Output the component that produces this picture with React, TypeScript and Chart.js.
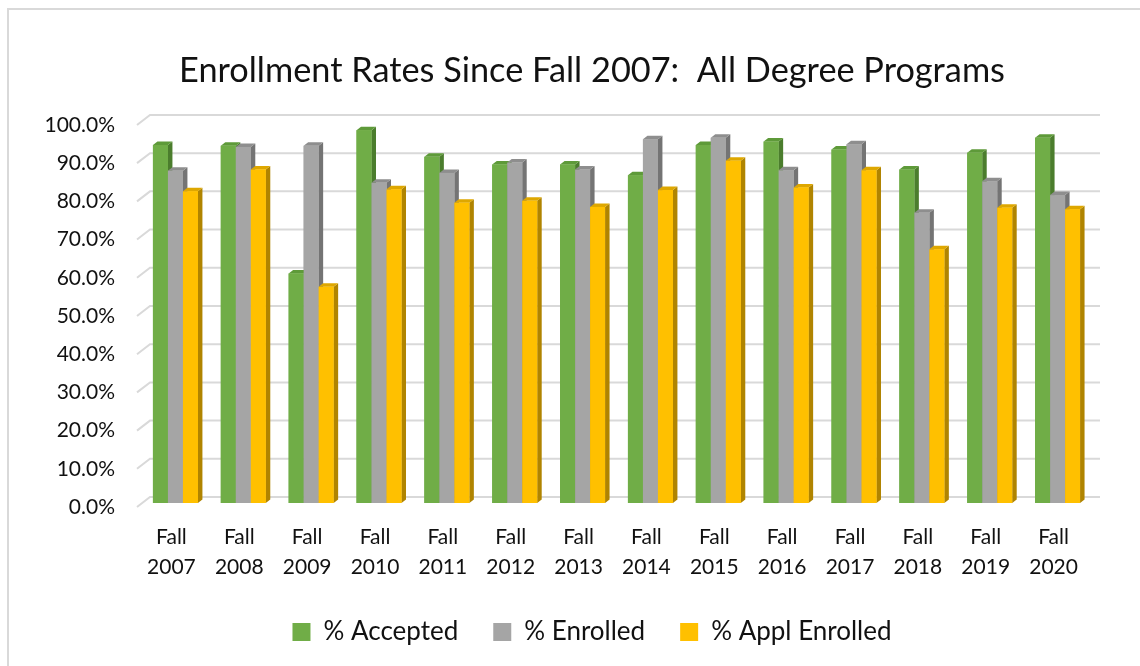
import React, { useEffect, useRef } from 'react';
import { Chart, registerables } from 'chart.js';

Chart.register(...registerables);

// ---- Data ----
const years = ['2007', '2008', '2009', '2010', '2011', '2012', '2013', '2014', '2015', '2016', '2017', '2018', '2019', '2020'];
const categories = years.map((y) => ['Fall', y]);
const seriesNames = ['% Accepted', '% Enrolled', '% Appl Enrolled'];
const accepted = [93.7, 93.5, 60.1, 97.6, 90.6, 88.6, 88.6, 85.8, 93.7, 94.6, 92.5, 87.3, 91.7, 95.6];
const enrolled = [87.0, 93.2, 93.5, 83.8, 86.4, 89.1, 87.3, 95.2, 95.6, 87.1, 93.9, 76.0, 84.2, 80.6];
const applEnrolled = [81.6, 87.3, 56.6, 82.1, 78.6, 79.1, 77.5, 81.9, 89.6, 82.6, 87.1, 66.4, 77.3, 76.9];
const yTicks = [0, 10, 20, 30, 40, 50, 60, 70, 80, 90, 100];
const title = 'Enrollment Rates Since Fall 2007:  All Degree Programs';

// ---- Styles ----
const faceColors = [
  { front: '#70AD47', top: '#5e9a39', side: '#4b7d2d' },
  { front: '#A5A5A5', top: '#8e8e8e', side: '#747474' },
  { front: '#FFC000', top: '#dea700', side: '#b08400' },
];
const FONT = 'Lato, "Noto Sans", sans-serif';
const TEXT = '#111111';
const DX = 4.5;
const DY = 3.5;
const FRONT = { dx: -4.5, dy: 4 };
const BACK = { dx: 8.5, dy: -6 };
const CW = 1184;
const CH = 666;

const bar3d = {
  id: 'bar3d',
  beforeDatasetsDraw(chart: any) {
    const { ctx, chartArea: a, scales } = chart;
    const y = scales.y;
    ctx.save();
    ctx.strokeStyle = '#d9d9d9';
    ctx.lineWidth = 2;
    for (const v of yTicks) {
      const py = y.getPixelForValue(v);
      ctx.beginPath();
      ctx.moveTo(a.left + FRONT.dx, py + FRONT.dy);
      ctx.lineTo(a.left + BACK.dx, py + BACK.dy);
      ctx.lineTo(a.right + BACK.dx, py + BACK.dy);
      ctx.stroke();
    }
    ctx.restore();
  },
  afterDatasetsDraw(chart: any) {
    const { ctx } = chart;
    const metas = chart.data.datasets.map((_: any, i: number) => chart.getDatasetMeta(i));
    const n = chart.data.labels.length;
    ctx.save();
    for (let j = 0; j < n; j++) {
      for (let i = 0; i < metas.length; i++) {
        const el = metas[i].data[j];
        if (!el) continue;
        const { x, y, base, width } = el.getProps(['x', 'y', 'base', 'width'], true);
        const l = x - width / 2;
        const r = x + width / 2;
        const c = faceColors[i];
        ctx.fillStyle = c.side;
        ctx.beginPath();
        ctx.moveTo(r, y);
        ctx.lineTo(r + DX, y - DY);
        ctx.lineTo(r + DX, base - DY);
        ctx.lineTo(r, base);
        ctx.closePath();
        ctx.fill();
        ctx.fillStyle = c.top;
        ctx.beginPath();
        ctx.moveTo(l, y);
        ctx.lineTo(l + DX, y - DY);
        ctx.lineTo(r + DX, y - DY);
        ctx.lineTo(r, y);
        ctx.closePath();
        ctx.fill();
        ctx.fillStyle = c.front;
        ctx.fillRect(l, y, width, base - y);
      }
    }
    ctx.restore();
  },
};

export default function App() {
  const ref = useRef<HTMLCanvasElement>(null);
  useEffect(() => {
    const seriesData = [accepted, enrolled, applEnrolled];
    const chart = new Chart(ref.current as HTMLCanvasElement, {
      type: 'bar',
      data: {
        labels: categories,
        datasets: seriesNames.map((name, i) => ({
          label: name,
          data: seriesData[i],
          backgroundColor: faceColors[i].front,
          borderWidth: 0,
          barPercentage: 1,
          categoryPercentage: 0.663,
        })),
      },
      plugins: [bar3d],
      options: {
        responsive: false,
        animation: false,
        devicePixelRatio: 1,
        layout: { padding: { top: 50.4, left: 0, right: 0, bottom: 11 } },
        plugins: {
          title: {
            display: true,
            text: title,
            color: TEXT,
            font: { family: FONT, size: 34.3, weight: 'normal', lineHeight: 1.2 },
            padding: { top: 0, bottom: 29.4 },
          },
          legend: {
            position: 'bottom',
            labels: {
              color: TEXT,
              font: { family: FONT, size: 26 },
              boxWidth: 18,
              boxHeight: 18,
              padding: 35,
            },
          },
          tooltip: { enabled: false },
        },
        scales: {
          x: {
            grid: { display: false, drawTicks: false },
            border: { display: false },
            ticks: {
              color: TEXT,
              font: { family: FONT, size: 21, lineHeight: 1.43 },
              padding: 19,
              labelOffset: -4,
              maxRotation: 0,
              autoSkip: false,
            },
            afterFit: (s: any) => {
              s.height = 81;
            },
          },
          y: {
            min: 0,
            max: 100,
            grid: { display: false, drawTicks: false },
            border: { display: false },
            ticks: {
              stepSize: 10,
              color: TEXT,
              font: { family: FONT, size: 21 },
              padding: 26.5,
              labelOffset: 4,
              callback: (v: any) => Number(v).toFixed(1) + '%',
            },
            afterFit: (s: any) => {
              s.width = 141.5;
            },
          },
          y2: {
            type: 'linear',
            position: 'right',
            display: true,
            grid: { display: false, drawTicks: false },
            border: { display: false },
            ticks: { display: false },
            afterFit: (s: any) => {
              s.width = CW - 1091.5;
            },
          },
        },
      } as any,
    });
    return () => chart.destroy();
  }, []);
  return (
    <div style={{ position: 'fixed', left: 0, top: 0, width: 1140, height: 666, overflow: 'hidden', background: '#ffffff' }}>
      <div
        style={{
          position: 'absolute',
          left: 7,
          top: 8,
          width: 1300,
          height: 800,
          border: '2px solid #d9d9d9',
          boxSizing: 'border-box',
        }}
      />
      <canvas
        ref={ref}
        width={CW}
        height={CH}
        style={{ position: 'absolute', left: 0, top: 0, width: CW, height: CH }}
      />
    </div>
  );
}
